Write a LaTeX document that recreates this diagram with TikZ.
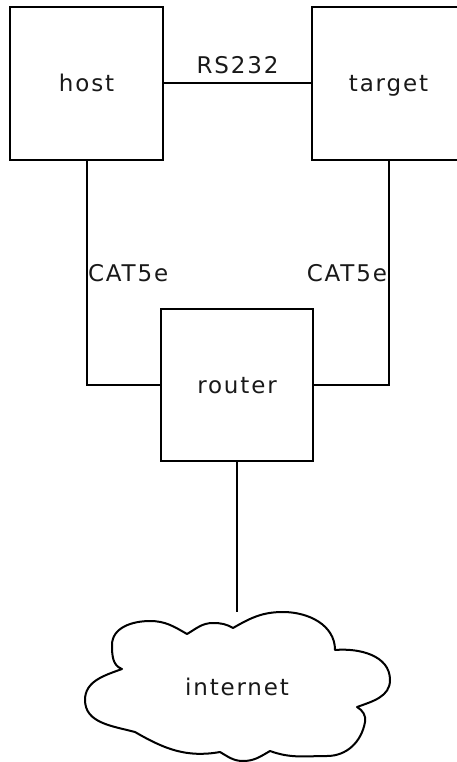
\documentclass[tikz,border=0pt]{standalone}
\usepackage{fontspec}
\setmainfont[LetterSpace=8]{DejaVu Sans}
\begin{document}
\begin{tikzpicture}[x=1pt,y=1pt,
  wire/.style={line width=2pt, black},
  txt/.style={font=\fontsize{23}{26}\selectfont, text=black!90, text height=20pt, text depth=4pt},
  device/.style={draw=black, line width=2pt, minimum width=153pt, minimum height=153pt, inner sep=0pt, txt},
  lbl/.style={inner sep=0.5pt, txt}]
\useasboundingbox (0,0) rectangle (457,-762);
\clip (0,0) rectangle (457,-762);

% boxes
\node[device] (host)   at (86.5,-83.5) {host};
\node[device] (target) at (388.5,-83.5) {target};
\node[device, minimum width=152pt, minimum height=152pt] (router) at (237,-385) {router};

% cloud area (outline drawn below)
\node[minimum width=305pt, minimum height=150pt, inner sep=0pt, txt] (internet) at (237,-687) {internet};
\draw[wire, line join=round]
  (233,-628) to[out=30,in=180] (283,-612) to[out=0,in=90] (335,-650)
  to[out=5,in=90] (390,-680) to[out=-90,in=20] (357,-707)
  to[out=-30,in=80] (365,-722) to[out=-100,in=0] (327,-756)
  to[out=180,in=-20] (270,-751)
  to[out=-150,in=0] (243,-761) to[out=180,in=-30] (220,-752)
  to[out=190,in=-30] (135,-732)
  to[out=165,in=-90] (85,-700) to[out=90,in=200] (122,-669)
  to[out=160,in=-90] (112,-645) to[out=90,in=180] (150,-621)
  to[out=0,in=150] (187,-634)
  to[out=30,in=180] (213,-623) to[out=0,in=150] cycle;

% connections
\draw[wire] (host.east) -- node[above, lbl, yshift=4pt] {RS232} (target.west);
\draw[wire] (host.south) |- node[pos=0.25, right, lbl] {CAT5e} (router.west);
\draw[wire] (target.south) |- node[pos=0.25, left, lbl] {CAT5e} (router.east);
\draw[wire] (router.south) -- (internet.north);
\end{tikzpicture}
\end{document}
